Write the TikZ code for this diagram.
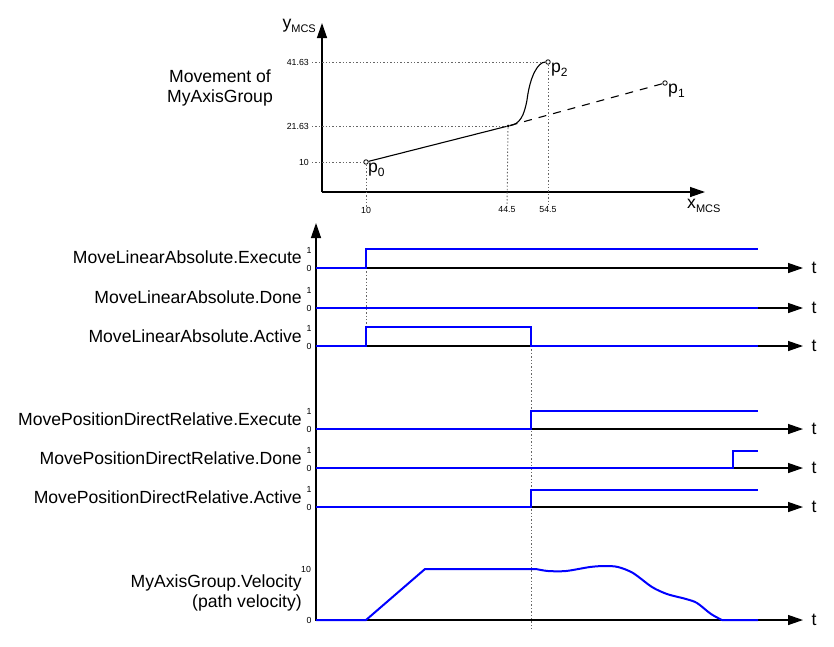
\documentclass[tikz,border=0pt]{standalone}
\usepackage{fontspec}
\setmainfont{Liberation Sans}
\usetikzlibrary{positioning}
\usepgflibrary{arrows.meta}

\begin{document}
\begin{tikzpicture}
    [x=1pt, y=-1pt,
    axis/.style={line width=1.3pt, -{Triangle[length=15pt,width=10pt]}},
    sig/.style={line width=2.4pt, color={rgb,255:red,0;green,0;blue,255}},
    guide/.style={line width=0.9pt, gray!80!black, dash pattern=on 1.4pt off 2pt},
    lbl/.style={font=\fontsize{17.6}{20.5}\selectfont, inner sep=0pt},
    tick/.style={font=\fontsize{8.8}{10}\selectfont, inner sep=0pt},
    pt/.style={circle, draw, fill=white, inner sep=0pt, minimum size=4.5pt, line width=0.8pt}]
    \useasboundingbox (0,0) rectangle (834,646);

        %% Movement in the plane
    \coordinate (O) at (322,192);
    \coordinate (Ytop) at (322,23);
    \coordinate (Xend) at (705,192);
    \draw[axis] (O) -- (Ytop);
    \draw[axis] (O) -- (Xend);
    \node[lbl, anchor=east] (ymcs) at (316,26) {y\raisebox{-4pt}{\fontsize{11}{11}\selectfont MCS}};
    \node[lbl, anchor=west] (xmcs) at (687,206) {x\raisebox{-4pt}{\fontsize{11}{11}\selectfont MCS}};
    \node[lbl, align=center] (mov) at (220,88) {Movement of\\MyAxisGroup};

    \node[pt] (p0) at (366,162) {};
    \node[pt] (p2) at (548,62) {};
    \node[pt] (p1) at (665,83) {};
    \node[circle, fill, inner sep=0pt, minimum size=3pt] (J) at (508,126) {};
    \node[lbl, anchor=north west] at (368,163) {p\raisebox{-4pt}{\fontsize{12}{12}\selectfont 0}};
    \node[lbl, anchor=north west] at (551,63) {p\raisebox{-4pt}{\fontsize{12}{12}\selectfont 2}};
    \node[lbl, anchor=north west] at (668,84) {p\raisebox{-4pt}{\fontsize{12}{12}\selectfont 1}};

    \node[tick, anchor=east] (y41) at (309,62) {41.63};
    \node[tick, anchor=east] (y21) at (309,126) {21.63};
    \node[tick, anchor=east] (y10) at (309,162) {10};
    \node[tick] (x10) at (366,210) {10};
    \node[tick] (x44) at (507,210) {44.5};
    \node[tick] (x54) at (548,210) {54.5};

    \draw[guide] (y41.east) ++(3,0) -- (p2);
    \draw[guide] (y21.east) ++(3,0) -- (J);
    \draw[guide] (y10.east) ++(3,0) -- (p0);
    \draw[guide] (p0) -- (x10.north);
    \draw[guide] (J) -- (x44.north);
    \draw[guide] (p2) -- (x54.north);

    \draw[line width=1.1pt] (p0) -- (J);
    \draw[line width=1.1pt, dash pattern=on 8pt off 7pt] (J) -- (p1);
    \draw[line width=1.1pt] (J) .. controls (520,124) and (524,116) .. (527,100)
        .. controls (530,76) and (538,62) .. (p2);

        %% Timing diagram
    \coordinate (T0) at (316,621);
    \coordinate (Ttop) at (316,223);
    \draw[axis] (T0) -- (Ttop);

    \foreach \n/\y in {1/268, 2/308, 3/346, 4/429, 5/468, 6/507, 7/620} {
        \coordinate (b\n) at (316,\y);
        \coordinate (e\n) at (803,\y);
        \draw[axis] (b\n) -- (e\n);
        \node[lbl] (t\n) at (814,\y) {t};
    }
    \foreach \n/\y in {1/268, 2/308, 3/346, 4/429, 5/468, 6/507} {
        \node[tick] at (309,\y-18) {1};
        \node[tick] at (309,\y) {0};
    }
    \node[tick] at (306,569) {10};
    \node[tick] at (309,620) {0};

    \node[lbl, anchor=east] (lE1) at (302,257) {MoveLinearAbsolute.Execute};
    \node[lbl, anchor=east] (lD1) at (302,297) {MoveLinearAbsolute.Done};
    \node[lbl, anchor=east] (lA1) at (302,336) {MoveLinearAbsolute.Active};
    \node[lbl, anchor=east] (lE2) at (302,419) {MovePositionDirectRelative.Execute};
    \node[lbl, anchor=east] (lD2) at (302,458) {MovePositionDirectRelative.Done};
    \node[lbl, anchor=east] (lA2) at (302,497) {MovePositionDirectRelative.Active};
    \node[lbl, anchor=east, align=right] (lV) at (302,593) {MyAxisGroup.Velocity\\(path velocity)};

    \draw[guide] (366,268) -- (366,346);
    \draw[guide] (531,346) -- (531,629);

    \draw[sig] (b1) -- (366,268) -- (366,249) -- (758,249);
    \draw[sig] (b2) -- (758,308);
    \draw[sig] (b3) -- (366,346) -- (366,327) -- (531,327) -- (531,346) -- (758,346);
    \draw[sig] (b4) -- (531,429) -- (531,411) -- (758,411);
    \draw[sig] (b5) -- (733,468) -- (733,451) -- (758,451);
    \draw[sig] (b6) -- (531,507) -- (531,490) -- (758,490);
    \draw[sig, line width=2pt] (b7) -- (366,620) -- (425,569) -- (536,569)
        plot[smooth, tension=0.5] coordinates {(536,569) (548,571) (566,571) (590,567) (605,566)
        (618,567) (633,573) (652,587) (667,594) (686,599) (697,603) (711,614) (722,620)}
        -- (758,620);
\end{tikzpicture}
\end{document}
